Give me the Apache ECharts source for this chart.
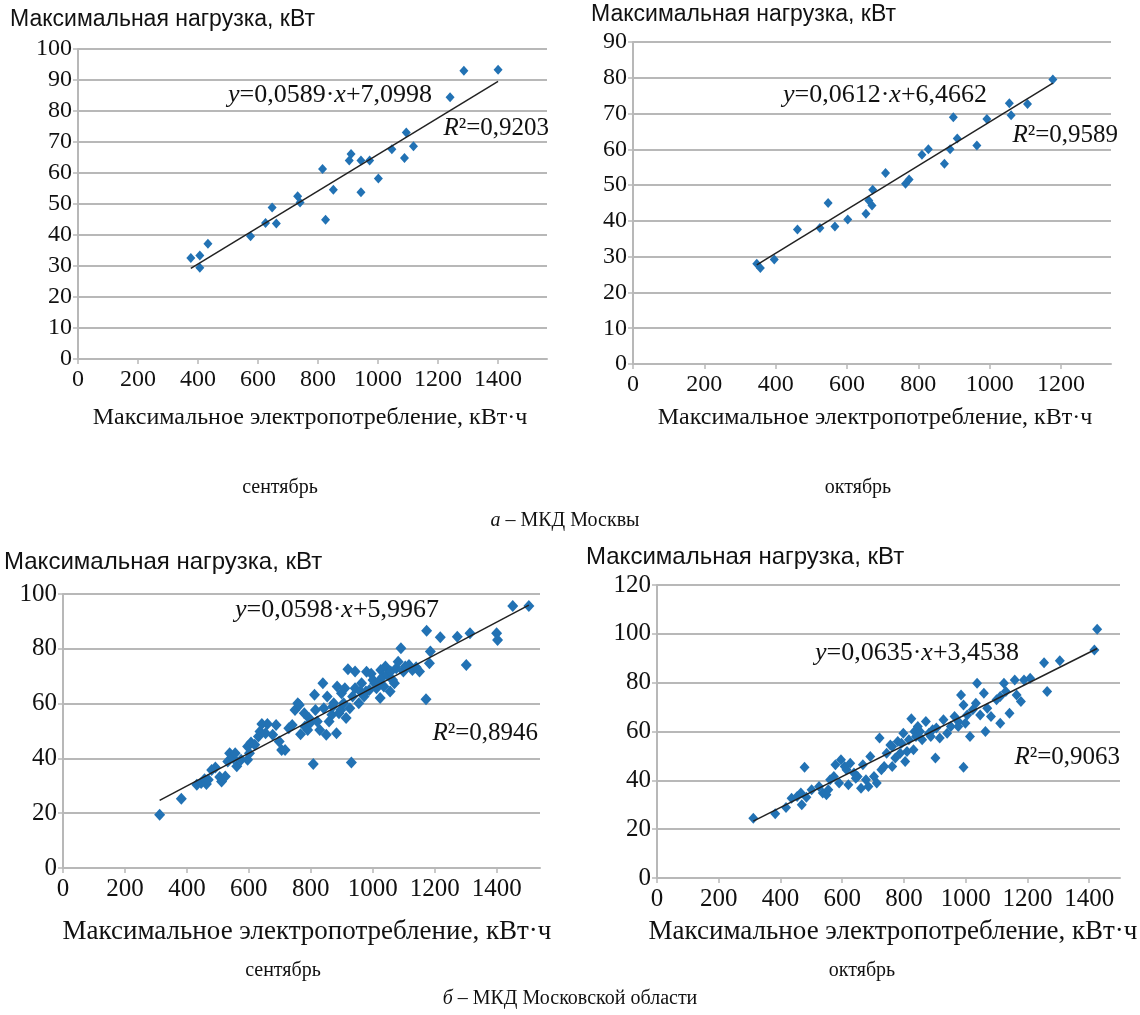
<!DOCTYPE html>
<html>
<head>
<meta charset="utf-8">
<script src="https://cdn.jsdelivr.net/npm/echarts@6/dist/echarts.min.js"></script>
<style>
  html, body { margin: 0; padding: 0; background: #fff; }
  #chart { width: 1140px; height: 1015px; }
</style>
</head>
<body>
<div id="chart"></div>
<script>
// --- данные: МКД Москвы, сентябрь (кВт·ч, кВт)
var sepMoscow = [
  [376, 32.6], [406, 33.4], [406, 29.4], [433, 37.2], [575, 39.6], [625, 43.9],
  [647, 48.9], [661, 43.7], [732, 52.5], [740, 50.5], [815, 61.3], [825, 44.9],
  [851, 54.6], [904, 64.0], [910, 66.1], [943, 64.0], [943, 53.8], [972, 64.0],
  [1001, 58.2], [1046, 67.7], [1088, 64.8], [1094, 73.1], [1118, 68.6],
  [1240, 84.4], [1286, 93.0], [1400, 93.3]
];
// МКД Москвы, октябрь
var octMoscow = [
  [347, 28.0], [357, 26.8], [396, 29.2], [461, 37.6], [524, 38.0], [547, 45.0],
  [566, 38.4], [602, 40.4], [653, 42.0], [661, 45.7], [670, 44.3], [672, 48.7],
  [708, 53.4], [764, 50.4], [774, 51.6], [810, 58.5], [828, 60.0], [873, 56.0],
  [889, 60.0], [898, 69.0], [909, 63.0], [964, 61.1], [992, 68.5], [1055, 72.9],
  [1060, 69.5], [1106, 72.7], [1177, 79.5]
];
// МКД Московской области, сентябрь
var sepRegion = [
  [312, 19.4], [382, 25.3], [432, 30.4], [446, 31.0], [457, 32.4], [463, 30.7],
  [469, 32.2], [480, 35.8], [492, 36.7], [506, 33.2], [512, 31.6], [524, 33.4],
  [532, 38.9], [538, 41.9], [550, 40.1], [556, 41.9], [561, 37.1], [575, 39.5],
  [596, 39.5], [596, 44.3], [602, 41.9], [607, 45.8], [619, 45.0], [631, 48.0],
  [636, 49.8], [642, 52.6], [654, 49.2], [660, 52.6], [677, 48.6], [688, 52.2],
  [698, 46.2], [706, 43.1], [717, 43.1], [729, 51.0], [740, 52.2], [749, 57.7],
  [758, 60.1], [763, 59.5], [767, 48.8], [779, 56.5], [781, 51.6], [790, 50.4],
  [794, 54.7], [798, 52.9], [808, 38.0], [812, 63.2], [815, 57.7], [821, 53.5],
  [829, 50.4], [839, 67.4], [842, 58.3], [850, 48.6], [853, 62.6], [859, 53.5],
  [868, 55.9], [871, 58.9], [874, 60.1], [883, 49.2], [885, 66.2], [891, 56.5],
  [897, 57.7], [899, 63.8], [906, 60.1], [910, 65.6], [914, 54.7], [920, 72.5],
  [926, 58.3], [931, 38.5], [935, 62.6], [943, 65.6], [943, 71.7], [955, 60.1],
  [960, 64.4], [964, 67.4], [972, 62.6], [978, 64.4], [980, 71.6], [989, 65.0],
  [995, 70.9], [1001, 68.6], [1006, 67.4], [1012, 65.6], [1018, 68.0], [1024, 62.0],
  [1026, 72.3], [1033, 69.9], [1036, 66.2], [1041, 73.5], [1047, 70.5], [1056, 64.4],
  [1058, 71.7], [1064, 68.6], [1070, 67.4], [1076, 72.9], [1082, 75.3], [1091, 80.2],
  [1099, 71.7], [1105, 73.5], [1117, 74.1], [1128, 72.3], [1140, 73.3], [1151, 71.7],
  [1172, 61.6], [1174, 86.6], [1183, 74.7], [1186, 79.0], [1218, 84.2], [1273, 84.4],
  [1302, 74.1], [1314, 85.7], [1400, 85.7], [1403, 83.2], [1452, 95.6], [1504, 95.6]
];
// МКД Московской области, октябрь
var octRegion = [
  [312, 24.5], [383, 26.3], [418, 28.9], [436, 32.7], [454, 33.4], [466, 34.8],
  [469, 30.0], [478, 45.4], [484, 33.1], [501, 36.1], [525, 37.5], [537, 34.8],
  [549, 34.1], [555, 36.1], [561, 40.2], [573, 41.6], [578, 46.4], [590, 38.9],
  [596, 48.4], [608, 45.7], [614, 44.3], [620, 38.2], [626, 47.0], [638, 43.0],
  [644, 40.9], [650, 41.6], [661, 36.8], [667, 46.4], [677, 40.2], [685, 37.5],
  [691, 49.8], [703, 41.6], [712, 38.9], [721, 57.3], [727, 44.3], [736, 45.7],
  [744, 51.1], [756, 54.5], [762, 45.7], [762, 53.9], [772, 49.1], [780, 55.9],
  [788, 51.1], [792, 55.2], [798, 59.3], [804, 47.7], [810, 51.8], [816, 56.6],
  [824, 65.2], [831, 52.5], [834, 60.0], [839, 58.0], [845, 62.0], [852, 60.0],
  [859, 56.6], [871, 64.1], [881, 59.3], [887, 58.0], [893, 60.7], [902, 49.1],
  [905, 61.4], [916, 57.3], [928, 64.8], [940, 59.3], [952, 62.0], [964, 66.1],
  [976, 64.1], [976, 62.0], [985, 75.0], [993, 70.9], [993, 45.4], [999, 63.4],
  [1005, 66.8], [1014, 58.0], [1023, 68.9], [1033, 71.6], [1037, 79.8], [1047, 66.8],
  [1059, 75.7], [1064, 60.0], [1070, 69.5], [1082, 66.1], [1100, 73.0], [1112, 63.4],
  [1112, 74.3], [1124, 79.8], [1130, 76.4], [1142, 67.5], [1159, 81.1], [1165, 75.0],
  [1179, 72.3], [1189, 81.1], [1209, 81.8], [1254, 88.2], [1264, 76.4], [1305, 89.0],
  [1417, 93.4], [1426, 101.9]
];

// линии тренда: [наклон, свободный член]
var trendSepMoscow = [0.0589, 7.0998];
var trendOctMoscow = [0.0612, 6.4662];
var trendSepRegion = [0.0598, 5.9967];
var trendOctRegion = [0.0635, 3.4538];

var eqSepMoscow = ['{i|y}=0,0589·{i|x}+7,0998', '{i|R}²=0,9203'];
var eqOctMoscow = ['{i|y}=0,0612·{i|x}+6,4662', '{i|R}²=0,9589'];
var eqSepRegion = ['{i|y}=0,0598·{i|x}+5,9967', '{i|R}²=0,8946'];
var eqOctRegion = ['{i|y}=0,0635·{i|x}+3,4538', '{i|R}²=0,9063'];

var yTitle = 'Максимальная нагрузка, кВт';
var xTitle = 'Максимальное электропотребление, кВт·ч';

var chart = echarts.init(document.getElementById('chart'));

var SERIF = '"Liberation Serif", "DejaVu Serif", serif';
var SANS = '"Liberation Sans", Arial, sans-serif';
var GRID_COLOR = '#b8b8b8';
var DOT = '#2272b4';
var INK = '#111';

function trendLine(data, coef) {
  var xs = data.map(function (d) { return d[0]; });
  var x0 = Math.min.apply(null, xs), x1 = Math.max.apply(null, xs);
  return [[x0, coef[0] * x0 + coef[1]], [x1, coef[0] * x1 + coef[1]]];
}

function xAxis(idx, max, fs) {
  return {
    type: 'value', gridIndex: idx, min: 0, max: max, interval: 200,
    splitLine: { show: false },
    axisLine: { lineStyle: { color: GRID_COLOR, width: 2 } },
    axisTick: { show: true, length: 5, lineStyle: { color: GRID_COLOR, width: 1.5 } },
    axisLabel: { color: INK, fontFamily: SERIF, fontSize: fs, margin: 9, showMaxLabel: false,
                 formatter: function (v) { return String(v); } }
  };
}
function yAxis(idx, max, step, fs) {
  return {
    type: 'value', gridIndex: idx, min: 0, max: max, interval: step,
    splitLine: { lineStyle: { color: GRID_COLOR, width: 2 } },
    axisLine: { show: true, lineStyle: { color: GRID_COLOR, width: 2 } },
    axisTick: { show: true, length: 5, lineStyle: { color: GRID_COLOR, width: 1.5 } },
    axisLabel: { color: INK, fontFamily: SERIF, fontSize: fs, margin: 6 }
  };
}
function dots(idx, data, size) {
  return {
    type: 'scatter', xAxisIndex: idx, yAxisIndex: idx, data: data,
    symbol: 'diamond', symbolSize: [size, size + 1],
    itemStyle: { color: DOT, opacity: 1 }, z: 3
  };
}
function trend(idx, data, coef) {
  return {
    type: 'line', xAxisIndex: idx, yAxisIndex: idx, data: trendLine(data, coef),
    symbol: 'none', lineStyle: { color: '#222', width: 1.5 }, z: 4
  };
}
function txt(x, y, text, font, align, extra) {
  var s = { x: x, y: y, text: text, font: font, fill: INK,
            textAlign: align || 'left', textVerticalAlign: 'middle' };
  if (extra) s.rich = extra;
  return { type: 'text', style: s, z: 10 };
}
function italic(fs) {
  return { i: { fontStyle: 'italic', fontFamily: SERIF, fontSize: fs, fill: INK } };
}

var option = {
  animation: false,
  backgroundColor: '#fff',
  grid: [
    { left: 78, top: 49, width: 469, height: 310 },
    { left: 633, top: 42, width: 478, height: 322 },
    { left: 63, top: 594, width: 477, height: 274 },
    { left: 657, top: 585, width: 463, height: 293 }
  ],
  xAxis: [xAxis(0, 1563, 24), xAxis(1, 1340, 24), xAxis(2, 1540, 25), xAxis(3, 1500, 25)],
  yAxis: [yAxis(0, 100, 10, 24), yAxis(1, 90, 10, 24), yAxis(2, 100, 20, 25), yAxis(3, 120, 20, 25)],
  series: [
    dots(0, sepMoscow, 9), trend(0, sepMoscow, trendSepMoscow),
    dots(1, octMoscow, 9), trend(1, octMoscow, trendOctMoscow),
    dots(2, sepRegion, 11), trend(2, sepRegion, trendSepRegion),
    dots(3, octRegion, 10), trend(3, octRegion, trendOctRegion)
  ],
  graphic: [
    txt(10, 20, yTitle, '23px ' + SANS),
    txt(591, 15, yTitle, '23px ' + SANS),
    txt(4, 562, yTitle, '24px ' + SANS),
    txt(586, 557, yTitle, '24px ' + SANS),

    txt(310, 418, xTitle, '24px ' + SERIF, 'center'),
    txt(875, 418, xTitle, '24px ' + SERIF, 'center'),
    txt(307, 932, xTitle, '27px ' + SERIF, 'center'),
    txt(893, 932, xTitle, '27px ' + SERIF, 'center'),

    txt(228, 95, eqSepMoscow[0], '26px ' + SERIF, 'left', italic(26)),
    txt(549, 128, eqSepMoscow[1], '25px ' + SERIF, 'right', italic(25)),
    txt(783, 95, eqOctMoscow[0], '26px ' + SERIF, 'left', italic(26)),
    txt(1118, 135, eqOctMoscow[1], '25px ' + SERIF, 'right', italic(25)),
    txt(235, 610, eqSepRegion[0], '26px ' + SERIF, 'left', italic(26)),
    txt(538, 733, eqSepRegion[1], '25px ' + SERIF, 'right', italic(25)),
    txt(815, 653, eqOctRegion[0], '26px ' + SERIF, 'left', italic(26)),
    txt(1120, 757, eqOctRegion[1], '25px ' + SERIF, 'right', italic(25)),

    txt(280, 488, 'сентябрь', '20px ' + SERIF, 'center'),
    txt(858, 488, 'октябрь', '20px ' + SERIF, 'center'),
    txt(565, 521, '{i|а} – МКД Москвы', '20px ' + SERIF, 'center', italic(20)),
    txt(283, 971, 'сентябрь', '20px ' + SERIF, 'center'),
    txt(862, 971, 'октябрь', '20px ' + SERIF, 'center'),
    txt(570, 999, '{i|б} – МКД Московской области', '20px ' + SERIF, 'center', italic(20))
  ]
};
chart.setOption(option);
</script>
</body>
</html>
